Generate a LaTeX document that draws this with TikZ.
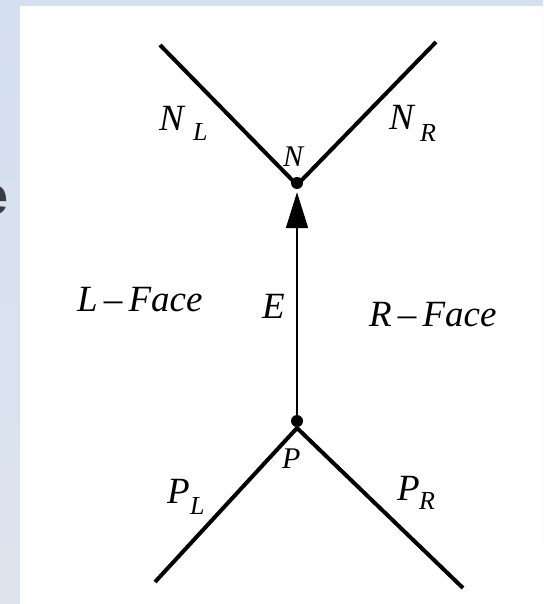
\documentclass[tikz,border=0pt]{standalone}
\usepackage{fontspec}
\setmainfont{Liberation Serif}
\setsansfont{Liberation Sans}
\usetikzlibrary{arrows.meta}
\definecolor{bgtop}{RGB}{212,223,240}
\definecolor{bgbot}{RGB}{222,228,238}
\definecolor{egray}{RGB}{60,60,60}
\begin{document}
\begin{tikzpicture}[x=1pt,y=-1pt,
  edgeline/.style={line width=4pt, line join=round},
  axisline/.style={line width=2pt},
  vdot/.style={circle, fill=black, inner sep=0pt, minimum size=12pt},
  biglbl/.style={font=\fontsize{37}{37}\selectfont\itshape, inner sep=0pt, anchor=base west},
  sublbl/.style={font=\fontsize{26}{26}\selectfont\itshape, inner sep=0pt, anchor=base west},
  vtxlbl/.style={font=\fontsize{30}{30}\selectfont\itshape, inner sep=0pt, anchor=base west}]
\useasboundingbox (0,0) rectangle (543,604);
\shade[top color=bgtop, bottom color=bgbot] (0,0) rectangle (543,604);
\fill[white] (20,6) rectangle (543,604);
\node[font=\fontsize{54}{54}\selectfont\sffamily\bfseries, text=egray, anchor=base east, inner sep=0pt] (cut) at (9,214) {e};
% geometry
\coordinate (NLend) at (160,45);
\coordinate (NV) at (297,185);
\coordinate (NRend) at (436,42);
\coordinate (PV) at (297,428);
\coordinate (PLend) at (155,582);
\coordinate (PRend) at (463,588);
\draw[edgeline] (NLend) -- (NV) -- (NRend);
\draw[edgeline] (PLend) -- (PV) -- (PRend);
\node[vdot] (N) at (297,183) {};
\node[vdot] (P) at (297,421) {};
\draw[axisline, -{Triangle[length=36pt,width=22pt]}, shorten >=3pt] (P) -- (N);
% labels
\node[biglbl] (NLa) at (159,131) {N};
\node[sublbl] (NLb) at (193,141) {L};
\node[biglbl] (NRa) at (389,130) {N};
\node[sublbl] (NRb) at (420,142) {R};
\node[vtxlbl] (Nl) at (283,167) {N};
\node[biglbl] (El) at (262,318) {E};
\node[biglbl] (LF) at (77,311) {L\,–\,Face};
\node[biglbl] (RF) at (369,326) {R\,–\,Face};
\node[vtxlbl] (Pl) at (282,468) {P};
\node[biglbl] (PLa) at (167,503) {P};
\node[sublbl] (PLb) at (190,514) {L};
\node[biglbl] (PRa) at (397,500) {P};
\node[sublbl] (PRb) at (419,509) {R};
\end{tikzpicture}
\end{document}
